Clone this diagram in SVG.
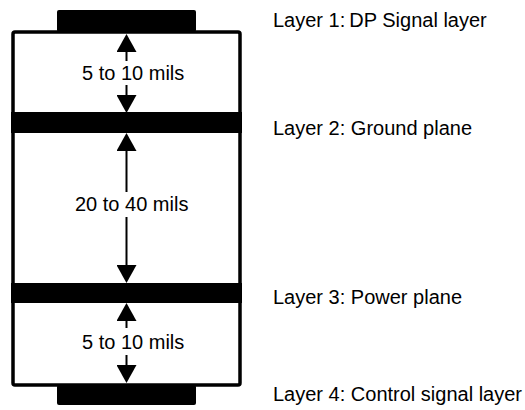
<svg xmlns="http://www.w3.org/2000/svg" width="525" height="410" viewBox="0 0 525 410">
<style>
.blk{fill:#000}
.frame{fill:#fff;stroke:#000;stroke-width:3.5}
.shaft{stroke:#000;stroke-width:2;fill:none;marker-end:url(#ah)}
text{font-family:"Liberation Sans",Arial,sans-serif;font-size:20px;fill:#000}
</style>
<defs>
<marker id="ah" viewBox="0 0 18 20" refX="0" refY="10" markerWidth="18" markerHeight="20" markerUnits="userSpaceOnUse" orient="auto">
<path d="M0,0 L18,10 L0,20 z" fill="#000"/>
</marker>
</defs>
<rect width="525" height="410" fill="#fff"/>
<g id="board">
<rect class="frame" x="13" y="32" width="227" height="353" rx="2"/>
</g>
<g id="layer1">
<rect class="blk" x="57" y="10" width="139" height="22" rx="2"/>
<text x="273" y="27">Layer 1:<tspan dx="4">DP Signal layer</tspan></text>
</g>
<g id="layer2">
<rect class="blk" x="11" y="112" width="231" height="21"/>
<text x="273" y="135">Layer 2: Ground plane</text>
</g>
<g id="layer3">
<rect class="blk" x="11" y="283" width="231" height="20"/>
<text x="273" y="304">Layer 3: Power plane</text>
</g>
<g id="layer4">
<rect class="blk" x="57" y="385" width="139" height="20" rx="2"/>
<text x="273" y="401">Layer 4: Control signal layer</text>
</g>
<g id="connectors">
<path class="shaft" d="M126.5,61 V52"/>
<path class="shaft" d="M126.5,85 V95"/>
<text x="82" y="80">5 to 10 mils</text>
<path class="shaft" d="M126.5,192 V151"/>
<path class="shaft" d="M126.5,217 V265"/>
<text x="75" y="211">20 to 40 mils</text>
<path class="shaft" d="M126.5,328 V321"/>
<path class="shaft" d="M126.5,355 V365"/>
<text x="82" y="349">5 to 10 mils</text>
</g>
</svg>
